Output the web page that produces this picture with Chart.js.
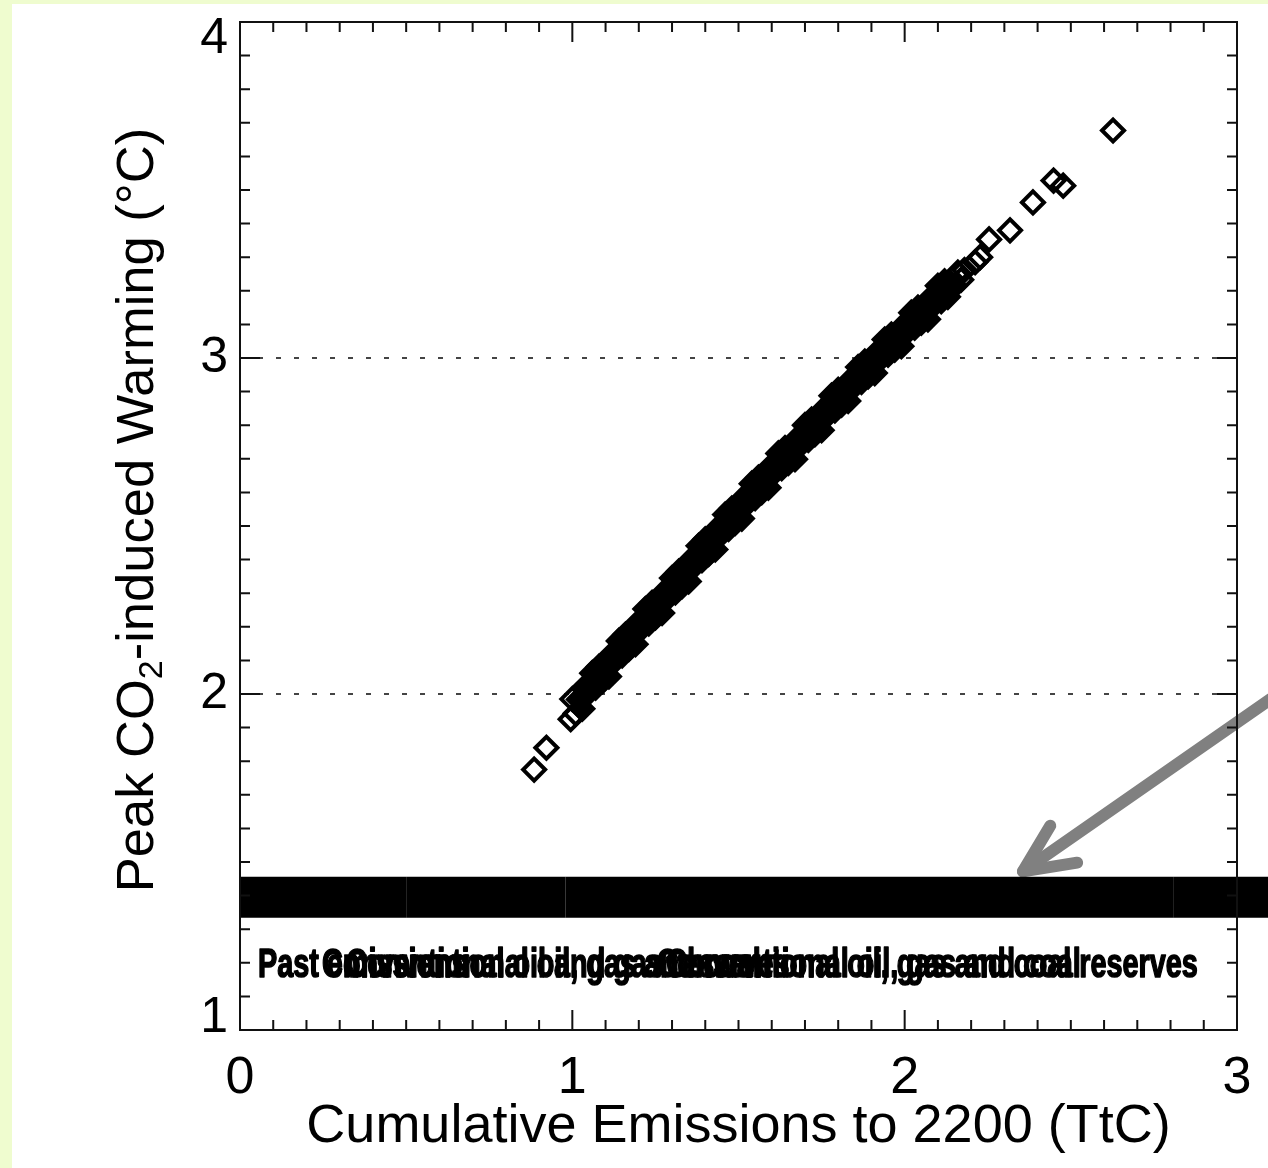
<!DOCTYPE html>
<html>
<head>
<meta charset="utf-8">
<script src="https://cdn.jsdelivr.net/npm/chart.js@4.4.0/dist/chart.umd.min.js"></script>
<style>
  html, body { margin: 0; padding: 0; background: #effccf; }
  body { width: 1268px; height: 1168px; position: relative; overflow: hidden; }
  #panel { position: absolute; left: 12px; top: 4px; right: 0; bottom: 0; background: #fff; }
  #wrap { position: absolute; left: 0; top: 0; width: 1268px; height: 1168px; }
</style>
</head>
<body>
<div id="panel"></div>
<div id="wrap"><canvas id="chart" width="1268" height="1168"></canvas></div>
<script>
// peak warming vs cumulative emissions (TtC)
const emissions = [
  0.885, 0.922, 0.995,
  1.00, 1.01, 1.02, 1.03, 1.04, 1.05, 1.06, 1.07, 1.08, 1.09,
  1.10, 1.11, 1.12, 1.13, 1.14, 1.15, 1.16, 1.17, 1.18, 1.19,
  1.20, 1.21, 1.22, 1.23, 1.24, 1.25, 1.26, 1.27, 1.28, 1.29,
  1.30, 1.31, 1.32, 1.33, 1.34, 1.35, 1.36, 1.37, 1.38, 1.39,
  1.40, 1.41, 1.42, 1.43, 1.44, 1.45, 1.46, 1.47, 1.48, 1.49,
  1.50, 1.51, 1.52, 1.53, 1.54, 1.55, 1.56, 1.57, 1.58, 1.59,
  1.60, 1.61, 1.62, 1.63, 1.64, 1.65, 1.66, 1.67, 1.68, 1.69,
  1.70, 1.71, 1.72, 1.73, 1.74, 1.75, 1.76, 1.77, 1.78, 1.79,
  1.80, 1.81, 1.82, 1.83, 1.84, 1.85, 1.86, 1.87, 1.88, 1.89,
  1.90, 1.91, 1.92, 1.93, 1.94, 1.95, 1.96, 1.97, 1.98, 1.99,
  2.00, 2.01, 2.02, 2.03, 2.04, 2.05, 2.06, 2.07, 2.08, 2.09,
  2.10, 2.11, 2.12, 2.13, 2.14, 2.15, 2.16, 2.17, 2.18,
  2.212, 2.227, 2.254, 2.317, 2.386, 2.448, 2.477, 2.627
];
const warming = [
  1.775, 1.840, 1.925,
  1.985, 1.942, 1.984, 1.956, 2.023, 2.005, 2.062, 2.019, 2.081, 2.038,
  2.080, 2.052, 2.119, 2.101, 2.158, 2.115, 2.177, 2.134, 2.176, 2.148,
  2.215, 2.197, 2.253, 2.210, 2.271, 2.228, 2.269, 2.241, 2.307, 2.289,
  2.345, 2.302, 2.364, 2.321, 2.363, 2.335, 2.402, 2.384, 2.441, 2.398,
  2.460, 2.417, 2.458, 2.430, 2.496, 2.478, 2.534, 2.491, 2.552, 2.509,
  2.550, 2.522, 2.588, 2.570, 2.626, 2.583, 2.644, 2.601, 2.642, 2.614,
  2.680, 2.661, 2.716, 2.672, 2.732, 2.688, 2.728, 2.699, 2.764, 2.745,
  2.800, 2.756, 2.817, 2.773, 2.814, 2.785, 2.851, 2.832, 2.888, 2.844,
  2.905, 2.861, 2.901, 2.872, 2.937, 2.918, 2.973, 2.929, 2.989, 2.945,
  2.985, 2.955, 3.020, 3.000, 3.055, 3.010, 3.070, 3.025, 3.065, 3.035,
  3.100, 3.080, 3.135, 3.090, 3.150, 3.105, 3.145, 3.115, 3.180, 3.160,
  3.215, 3.169, 3.228, 3.182, 3.221, 3.215, 3.254, 3.233, 3.262,
  3.285, 3.300, 3.353, 3.380, 3.463, 3.528, 3.513, 3.677
];
// where the runs pile up into a solid band
const denseFrom = 1.015, denseTo = 2.15;

// black reserve bars along the bottom (TtC edges), all at one warming level
const barEdges = [0, 0.5, 0.98, 2.81, 3.2];
const barLevel = 1.395;

// overlapping bar captions (printed on top of each other in the figure)
const captionTexts = [
  "Past emissions",
  "Conventional oil and gas reserves",
  "Conventional oil, gas and coal",
  "Conventional oil, gas and coal",
  "Conventional oil, gas and coal reserves"
];
const captionX = [0.054, 0.247, 0.32, 2.53, 2.882];
const captionAlign = ["left", "left", "left", "right", "right"];
const captionLevel = 1.19;

// grey arrow pointing at the bars
const arrowShaftX = [3.2, 2.356];
const arrowShaftY = [2.053, 1.472];
const arrowHeadX = [2.438, 2.356, 2.519];
const arrowHeadY = [1.608, 1.472, 1.498];

const xTicks = [0, 1, 2, 3];
const yTicks = [1, 2, 3, 4];
const dottedAt = [2, 3];

const FONT = '"Liberation Sans", Arial, Helvetica, sans-serif';

const pts = (xs, ys) => xs.map((x, i) => ({ x, y: ys[i] }));

const datasets = [];
for (let i = 0; i < barEdges.length - 1; i++) {
  datasets.push({
    type: 'line',
    data: pts([barEdges[i], barEdges[i + 1]], [barLevel, barLevel]),
    borderColor: '#000',
    borderWidth: 41,
    borderCapStyle: 'butt',
    pointRadius: 0,
    clip: false
  });
}
datasets.push({
  type: 'scatter',
  data: pts(emissions, warming),
  pointStyle: 'rectRot',
  pointRadius: 11,
  pointBorderWidth: 4,
  borderColor: '#000',
  pointBackgroundColor: c => (c.raw && c.raw.x >= denseFrom && c.raw.x <= denseTo) ? '#000' : 'rgba(0,0,0,0)',
  showLine: false
});
datasets.push({
  type: 'line',
  data: pts(arrowShaftX, arrowShaftY),
  borderColor: '#808080',
  borderWidth: 12,
  borderCapStyle: 'round',
  pointRadius: 0,
  clip: false
});
datasets.push({
  type: 'line',
  data: pts(arrowHeadX, arrowHeadY),
  borderColor: '#808080',
  borderWidth: 12,
  borderCapStyle: 'round',
  borderJoinStyle: 'round',
  pointRadius: 0,
  clip: false
});

// inward tick marks, full frame, y labels, captions and the y title with subscript
const decor = {
  id: 'decor',
  afterDraw(chart) {
    const { ctx, chartArea: a, scales: { x, y } } = chart;
    ctx.save();
    ctx.strokeStyle = '#111';
    ctx.lineWidth = 2;
    ctx.strokeRect(a.left, a.top, a.right - a.left, a.bottom - a.top);
    ctx.beginPath();
    for (let i = 0; i <= 30; i++) {
      const px = x.getPixelForValue(i / 10);
      const len = i % 10 === 0 ? 20 : 10;
      ctx.moveTo(px, a.bottom); ctx.lineTo(px, a.bottom - len);
      ctx.moveTo(px, a.top); ctx.lineTo(px, a.top + len);
    }
    for (let i = 10; i <= 40; i++) {
      const py = y.getPixelForValue(i / 10);
      const len = i % 10 === 0 ? 20 : 10;
      ctx.moveTo(a.left, py); ctx.lineTo(a.left + len, py);
      ctx.moveTo(a.right, py); ctx.lineTo(a.right - len, py);
    }
    ctx.stroke();

    // y tick labels, kept inside the axis span like the original
    ctx.fillStyle = '#000';
    ctx.font = '50px ' + FONT;
    ctx.textAlign = 'right';
    ctx.textBaseline = 'middle';
    yTicks.forEach(v => {
      const py = Math.min(Math.max(y.getPixelForValue(v), a.top + 17), a.bottom - 12);
      ctx.fillText(String(v), a.left - 12, py);
    });

    // captions, narrow heavy bold face
    ctx.font = 'bold 40px ' + FONT;
    ctx.strokeStyle = '#000';
    ctx.lineWidth = 1.6;
    ctx.lineJoin = 'round';
    captionTexts.forEach((t, i) => {
      ctx.save();
      ctx.translate(x.getPixelForValue(captionX[i]), y.getPixelForValue(captionLevel));
      ctx.scale(0.72, 1);
      ctx.textAlign = captionAlign[i];
      ctx.fillText(t, 0, 0);
      ctx.strokeText(t, 0, 0);
      ctx.restore();
    });

    // y title
    const big = '52.5px ' + FONT, small = '34px ' + FONT;
    const parts = [['Peak CO', big, 0], ['2', small, 14], ['-induced Warming (\u00B0C)', big, 0]];
    let total = 0;
    parts.forEach(p => { ctx.font = p[1]; total += ctx.measureText(p[0]).width; });
    ctx.translate(139, 510);
    ctx.rotate(-Math.PI / 2);
    ctx.textAlign = 'left';
    let cx = -total / 2;
    parts.forEach(p => {
      ctx.font = p[1];
      ctx.fillText(p[0], cx, p[2]);
      cx += ctx.measureText(p[0]).width;
    });
    ctx.restore();
  }
};

new Chart(document.getElementById('chart'), {
  data: { datasets },
  options: {
    responsive: false,
    devicePixelRatio: 1,
    animation: false,
    layout: { padding: { left: 0, top: 22, right: 31, bottom: 0 } },
    plugins: { legend: { display: false }, tooltip: { enabled: false } },
    scales: {
      x: {
        type: 'linear', position: 'bottom', min: 0, max: 3,
        afterBuildTicks: s => { s.ticks = xTicks.map(v => ({ value: v })); },
        afterFit: s => { s.height = 138; s.paddingLeft = 0; s.paddingRight = 0; },
        ticks: { color: '#000', font: { family: FONT, size: 52 }, padding: 17, maxRotation: 0, autoSkip: false },
        grid: { display: false, drawTicks: false },
        border: { display: false },
        title: { display: true, text: 'Cumulative Emissions to 2200 (TtC)', color: '#000',
                 font: { family: FONT, size: 54 }, padding: { top: 0, bottom: 8 } }
      },
      y: {
        type: 'linear', position: 'left', min: 1, max: 4,
        afterBuildTicks: s => { s.ticks = yTicks.map(v => ({ value: v })); },
        afterFit: s => { s.width = 240; s.paddingTop = 0; s.paddingBottom = 0; },
        ticks: { display: false },
        grid: {
          drawTicks: false,
          color: c => dottedAt.includes(c.tick && c.tick.value) ? '#444' : 'rgba(0,0,0,0)',
          lineWidth: 2
        },
        border: { display: false, dash: [5, 13] }
      }
    }
  },
  plugins: [decor]
});
</script>
</body>
</html>
